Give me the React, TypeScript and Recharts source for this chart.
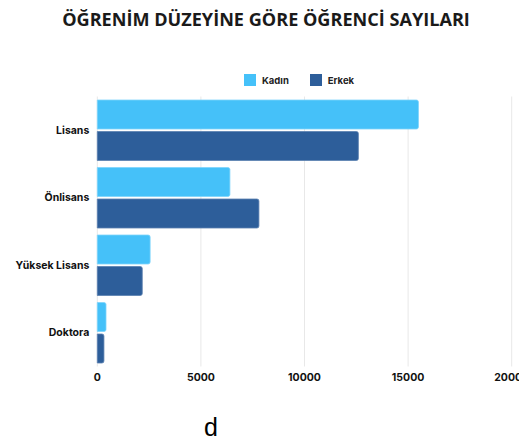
import React from "react";
import { BarChart, Bar, XAxis, YAxis, CartesianGrid } from "recharts";

const categories = ["Lisans", "Önlisans", "Yüksek Lisans", "Doktora"];
const kadin = [15500, 6400, 2550, 420];
const erkek = [12600, 7800, 2170, 320];
const xTicks = [0, 5000, 10000, 15000, 20000];

const KADIN_COLOR = "#45C1F9";
const ERKEK_COLOR = "#2D5E9A";

const data = categories.map((c, i) => ({ name: c, Kadın: kadin[i], Erkek: erkek[i] }));

const tickStyle = { fontFamily: "Inter, sans-serif", fontWeight: 700, fontSize: 10.5, fill: "#111" };

const YTick = (props: any) => {
  const { x, y, payload } = props;
  return (
    <text x={x} y={y} dy="0.355em" textAnchor="end" style={tickStyle}>
      {payload.value}
    </text>
  );
};

export default function App() {
  return (
    <div style={{ position: "relative", width: 511, height: 435, overflow: "hidden", fontFamily: "Inter, sans-serif" }}>
      <div
        style={{
          position: "absolute",
          top: -1,
          left: 0,
          width: 516,
          textAlign: "center",
          fontFamily: "'Open Sans', sans-serif",
          fontWeight: 700,
          fontSize: 18.1,
          color: "#1a1a1a",
        }}
      >
        ÖĞRENİM DÜZEYİNE GÖRE ÖĞRENCİ SAYILARI
      </div>
      <div style={{ position: "absolute", top: 66, left: 236, display: "flex", alignItems: "center", fontSize: 9.5, fontWeight: 700, color: "#222" }}>
        <span style={{ display: "inline-block", width: 12, height: 12, background: KADIN_COLOR, marginRight: 6 }} />
        <span style={{ marginRight: 21 }}>Kadın</span>
        <span style={{ display: "inline-block", width: 12, height: 12, background: ERKEK_COLOR, marginRight: 6 }} />
        <span>Erkek</span>
      </div>
      <div style={{ position: "absolute", top: 82 }}>
        <BarChart
          width={560}
          height={312}
          data={data}
          layout="vertical"
          margin={{ top: 6.5, right: 56.3, bottom: 5.5, left: 0 }}
          barCategoryGap={3.5}
          barGap={2.5}
        >
          <CartesianGrid horizontal={false} stroke="#e8e8e8" />
          <XAxis
            type="number"
            domain={[0, 20000]}
            ticks={xTicks}
            axisLine={false}
            tickLine={false}
            tickSize={0}
            tickMargin={7}
            tick={tickStyle}
            interval={0}
          />
          <YAxis
            type="category"
            dataKey="name"
            width={89.3}
            axisLine={false}
            tickLine={false}
            tickSize={0}
            tickMargin={8}
            tick={<YTick />}
          />
          <Bar dataKey="Kadın" fill={KADIN_COLOR} stroke="#7fd4fb" strokeWidth={0.8} radius={[0, 2, 2, 0]} isAnimationActive={false} />
          <Bar dataKey="Erkek" fill={ERKEK_COLOR} stroke="#5b80b0" strokeWidth={0.8} radius={[0, 2, 2, 0]} isAnimationActive={false} />
        </BarChart>
      </div>
      <div style={{ position: "absolute", top: 405, left: 196, fontFamily: "'Liberation Sans', Arial, sans-serif", fontSize: 25, color: "#000" }}>
        d
      </div>
    </div>
  );
}
